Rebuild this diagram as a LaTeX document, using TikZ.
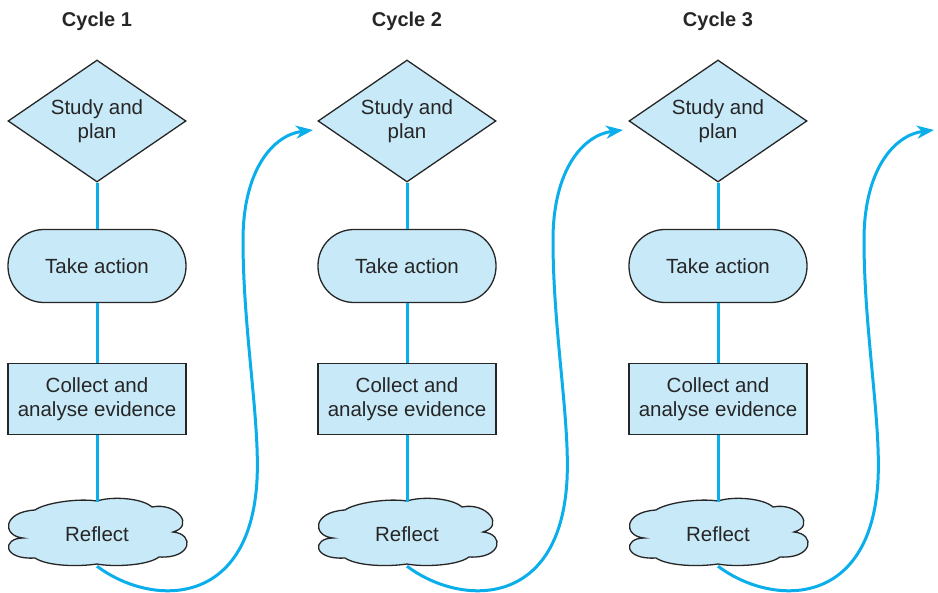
\documentclass[tikz,border=0pt]{standalone}
\usepackage{fontspec}
\setmainfont{Liberation Sans}
\usetikzlibrary{shapes.geometric,arrows.meta,calc}
\definecolor{boxfill}{HTML}{C8E9F8}
\definecolor{flow}{HTML}{0AAEEA}
\definecolor{ink}{HTML}{262626}
\tikzset{
  outline/.style={draw=ink, line width=1.3pt, fill=boxfill},
  shapebase/.style={outline, text=ink,
    font=\fontsize{20.5}{24}\selectfont, align=center, inner sep=0pt},
  decision/.style={shapebase, diamond, aspect=1.46, minimum width=178pt, minimum height=122pt},
  actionbox/.style={shapebase, rectangle, rounded corners=36pt, minimum width=178pt, minimum height=73pt},
  evidencebox/.style={shapebase, rectangle, minimum width=178pt, minimum height=71pt},
  reflectlabel/.style={text=ink, font=\fontsize{20.5}{24}\selectfont, inner sep=0pt,
    minimum width=176pt, minimum height=64pt},
  link/.style={draw=flow, line width=3pt},
  loop/.style={draw=flow, line width=3pt, -{Stealth[length=17pt,width=13pt,inset=5pt]}},
  cycletitle/.style={text=ink, font=\fontsize{20}{24}\selectfont\bfseries},
}
\begin{document}
\begin{tikzpicture}[x=1pt,y=-1pt]
\useasboundingbox (0,0) rectangle (938,593);
\foreach \i/\cx in {1/97, 2/407, 3/718} {
  \node[cycletitle] (title\i) at (\cx,21) {Cycle \i};
  \node[decision] (plan\i) at (\cx,121) {Study and\\plan};
  \node[actionbox] (act\i) at (\cx,266) {Take action};
  \node[evidencebox] (ev\i) at (\cx,399) {Collect and\\analyse evidence};
  % cloud outline made of eight puffs around the Reflect label
  \begin{scope}[shift={(\cx,534)}]
    \draw[outline] (-74,4)
      .. controls (-95,2) and (-95,-22) .. (-62,-24)
      .. controls (-52,-31) and (-20,-36) .. (0,-33)
      .. controls (15,-38) and (45,-36) .. (55,-27)
      .. controls (80,-32) and (98,-8) .. (76,-2)
      .. controls (98,0) and (95,25) .. (62,23)
      .. controls (50,32) and (15,33) .. (0,30)
      .. controls (-20,33) and (-50,32) .. (-62,24)
      .. controls (-95,26) and (-95,4) .. (-74,4) -- cycle;
  \end{scope}
  \node[reflectlabel] (refl\i) at (\cx,534) {Reflect};
  \draw[link] (plan\i.south) -- (act\i.north);
  \draw[link] (act\i.south) -- (ev\i.north);
  \draw[link] (ev\i.south) -- (refl\i.north);
  \coordinate (tip\i) at (\cx+216,130);
  \coordinate (low\i) at (\cx+160,480);
  \coordinate (mid\i) at (\cx+146,240);
  \draw[loop] (refl\i.south)
     .. controls ($(refl\i.south)+(53,40)$) and ($(low\i)+(-7,130)$) .. (low\i)
     .. controls ($(low\i)+(3,-60)$) and ($(mid\i)+(0,90)$) .. (mid\i)
     .. controls ($(mid\i)+(0,-70)$) and ($(tip\i)+(-40,5)$) .. (tip\i);
}
\end{tikzpicture}
\end{document}
